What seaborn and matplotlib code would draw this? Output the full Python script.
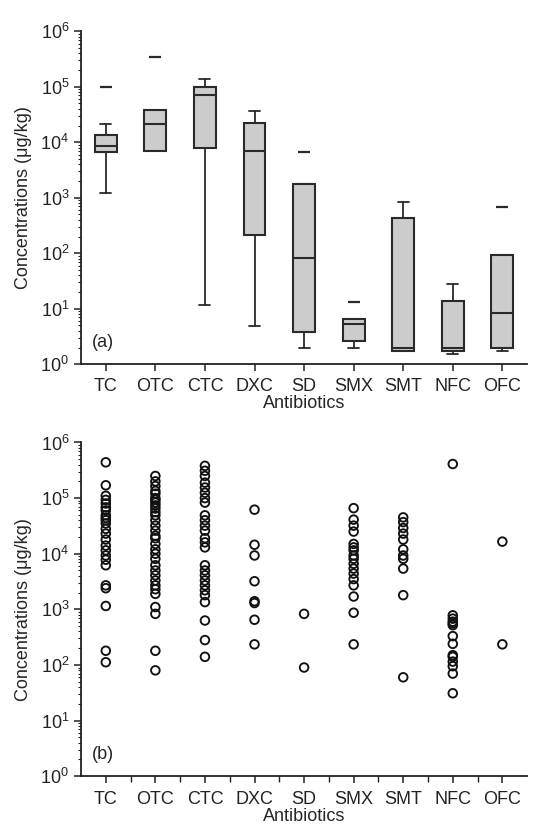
import matplotlib
matplotlib.use('Agg')
import matplotlib.pyplot as plt
import seaborn as sns
import pandas as pd
from matplotlib.ticker import LogLocator, NullFormatter, FixedLocator

antibiotics = ['TC', 'OTC', 'CTC', 'DXC', 'SD', 'SMX', 'SMT', 'NFC', 'OFC']

# (a) box statistics (ug/kg)
whisker_low = [1.2e3, 6.9e3, 11.5, 4.8, 2.0, 2.0, 1.7, 1.5, 1.7]
q1 = [6.6e3, 6.9e3, 7.8e3, 210, 3.8, 2.6, 1.7, 1.7, 2.0]
median = [8.5e3, 2.1e4, 7.0e4, 7.1e3, 81, 5.3, 1.95, 1.95, 8.3]
q3 = [1.35e4, 3.8e4, 1.0e5, 2.2e4, 1.75e3, 6.5, 430, 13.7, 92]
whisker_high = [2.1e4, 3.8e4, 1.4e5, 3.6e4, 1.75e3, 6.5, 830, 28, 92]
outliers = [[1.0e5], [3.5e5], [], [], [6.6e3], [13], [], [], [670]]

# (b) individual samples
tc = [4.4e5, 1.7e5, 1.1e5, 9.3e4, 8.0e4, 6.8e4, 6.0e4, 4.9e4, 4.4e4, 4.0e4, 3.5e4, 2.8e4,
      2.3e4, 1.8e4, 1.4e4, 1.15e4, 9.3e3, 7.8e3, 6.2e3, 2.7e3, 2.4e3, 1.15e3, 180, 112]
otc = [2.5e5, 2.0e5, 1.65e5, 1.35e5, 1.2e5, 1.0e5, 9.3e4, 8.3e4, 7.4e4, 6.5e4, 5.6e4, 4.9e4,
       4.0e4, 3.2e4, 2.6e4, 2.1e4, 1.9e4, 1.5e4, 1.2e4, 1.0e4, 8.1e3, 6.2e3, 5.0e3, 4.1e3,
       3.3e3, 2.7e3, 2.3e3, 1.9e3, 1.1e3, 830, 180, 80]
ctc = [3.8e5, 3.1e5, 2.5e5, 1.9e5, 1.55e5, 1.25e5, 1.0e5, 8.3e4, 4.9e4, 4.0e4, 3.2e4, 2.6e4,
       1.9e4, 1.6e4, 1.3e4, 6.2e3, 5.0e3, 4.1e3, 3.3e3, 2.7e3, 2.2e3, 1.8e3, 1.35e3, 630, 280, 140]
dxc = [6.2e4, 1.45e4, 9.3e3, 3.2e3, 1.4e3, 1.3e3, 650, 235]
sd = [830, 90]
smx = [6.6e4, 4.1e4, 3.2e4, 2.5e4, 1.5e4, 1.3e4, 1.15e4, 9.3e3, 8.1e3, 6.6e3, 5.4e3, 4.4e3,
       3.5e3, 2.7e3, 1.7e3, 870, 235]
smt = [4.5e4, 3.7e4, 2.9e4, 2.3e4, 1.8e4, 1.2e4, 9.3e3, 8.1e3, 5.4e3, 1.8e3, 60]
nfc = [4.1e5, 780, 680, 600, 560, 520, 330, 240, 150, 140, 115, 95, 70, 31]
ofc = [1.65e4, 235]

samples = dict(zip(antibiotics, [tc, otc, ctc, dxc, sd, smx, smt, nfc, ofc]))
df = pd.DataFrame([(k, v) for k, vals in samples.items() for v in vals],
                  columns=['antibiotic', 'conc'])

sns.set_theme(style='ticks')
plt.rcParams['font.family'] = ['Liberation Sans', 'DejaVu Sans']
plt.rcParams['mathtext.fontset'] = 'custom'
plt.rcParams['mathtext.rm'] = 'Liberation Sans'
plt.rcParams['mathtext.it'] = 'Liberation Sans:italic'
plt.rcParams['mathtext.bf'] = 'Liberation Sans:bold'

edge = '#2a2a2a'
fig = plt.figure(figsize=(5.33, 8.24), dpi=100)
ax1 = fig.add_axes([0.152, 0.558, 0.837, 0.404])
ax2 = fig.add_axes([0.152, 0.058, 0.837, 0.405])

# (a) boxes from the summary statistics
stats = [dict(whislo=a, q1=b, med=c, q3=d, whishi=e, fliers=f)
         for a, b, c, d, e, f in zip(whisker_low, q1, median, q3, whisker_high, outliers)]
ax1.bxp(stats, positions=range(len(antibiotics)), widths=0.44, capwidths=0.22,
        patch_artist=True,
        boxprops=dict(facecolor='#cccccc', edgecolor=edge, linewidth=1.5),
        medianprops=dict(color=edge, linewidth=1.5),
        whiskerprops=dict(color=edge, linewidth=1.3),
        capprops=dict(color=edge, linewidth=1.3),
        flierprops=dict(marker='_', markersize=8, markeredgecolor=edge, markeredgewidth=1.6))

# (b) every sample as an open circle
sns.stripplot(data=df, x='antibiotic', y='conc', order=antibiotics, jitter=False,
              ax=ax2, size=6.2, color='white', edgecolor='#111111', linewidth=1.35)
for c in ax2.collections:
    c.set_facecolor('none')


def style(ax, tag, xpad):
    ax.set_yscale('log')
    ax.set_ylim(1, 1e6)
    ax.set_xlim(-0.5, 8.5)
    ax.set_xticks(range(len(antibiotics)))
    ax.set_xticklabels(antibiotics)
    ax.yaxis.set_major_locator(LogLocator(base=10, numticks=10))
    ax.yaxis.set_minor_locator(LogLocator(base=10, subs=range(2, 10), numticks=100))
    ax.yaxis.set_minor_formatter(NullFormatter())
    sns.despine(ax=ax)
    for s in ['left', 'bottom']:
        ax.spines[s].set_linewidth(1.3)
        ax.spines[s].set_color('#222222')
    ax.tick_params(which='major', direction='out', length=5, width=1.1, labelsize=13,
                   colors='#222222')
    ax.tick_params(which='minor', direction='out', length=2.5, width=0.8, colors='#222222')
    ax.tick_params(axis='x', which='major', pad=xpad)
    ax.set_xlabel('Antibiotics', fontsize=13, labelpad=0)
    ax.set_ylabel('Concentrations (μg/kg)', fontsize=13)
    ax.yaxis.set_label_coords(-0.11, 0.5)
    ax.text(0.025, 0.066, tag, transform=ax.transAxes, fontsize=13, va='center')


style(ax1, '(a)', 5)
style(ax2, '(b)', 6)
ax2.xaxis.set_minor_locator(FixedLocator([i + 0.5 for i in range(len(antibiotics) - 1)]))
ax2.tick_params(axis='x', which='minor', length=4, width=1.0)

fig.savefig('out.png', dpi=100)
